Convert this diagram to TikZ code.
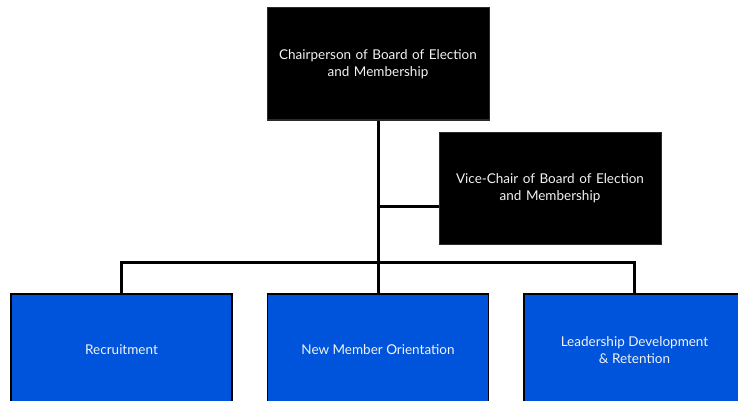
\documentclass[tikz,border=0pt]{standalone}
\usepackage{fontspec}
\setmainfont{Lato}
\usepackage{tikz}
\usetikzlibrary{calc,positioning}
\definecolor{text}{HTML}{F2F2F2}
\definecolor{lead}{HTML}{000000}
\definecolor{unit}{HTML}{0054DB}
\definecolor{rim}{HTML}{2A2A2A}
\tikzset{
  headbox/.style={draw=rim, fill=lead, line width=1pt, minimum width=222pt, minimum height=112pt,
    text width=218pt, align=center, inner sep=0pt},
  unitbox/.style={draw=black, fill=unit, line width=1.5pt, minimum width=221pt, minimum height=140pt,
    inner sep=0pt},
  labu/.style={align=center},
  link/.style={draw=black, line width=3pt},
  every node/.style={text=text, font=\fontsize{13.5}{17.5}\selectfont}
}
\begin{document}
\begin{tikzpicture}[x=1pt,y=-1pt]
  \clip (0,0) rectangle (738,401);
  \useasboundingbox (0,0) rectangle (738,401);
  \fill[white] (0,0) rectangle (738,401);

  % boxes
  \node[headbox] (chair) at (378,64) {\raisebox{-2.5pt}{\parbox{218pt}{\centering Chairperson of Board of Election\\and Membership}}};
  \node[headbox] (vice) at (550,188) {\raisebox{-3pt}{\parbox{218pt}{\centering Vice-Chair of Board of Election\\and Membership}}};
  \node[unitbox,anchor=north] (recruit) at (121.5,293) {};
  \node[unitbox,anchor=north] (orient) at (378,293) {};
  \node[unitbox,anchor=north] (retain) at (634.5,293) {};
  \node[labu] (recruitlab) at (121.5,350) {Recruitment};
  \node[labu] (orientlab) at (378,350) {New Member Orientation};
  \node[labu] (retainlab) at (634.5,350) {Leadership Development\\\& Retention};

  % connectors
  \coordinate (bar) at (378,262);
  \coordinate (tee) at (378,206);
  \draw[link] (chair.south) -- (orient.north);
  \draw[link] (tee) -- (vice.west |- tee);
  \draw[link] (recruit.north) -- (recruit.north |- bar) -- (retain.north |- bar) -- (retain.north);
\end{tikzpicture}
\end{document}
